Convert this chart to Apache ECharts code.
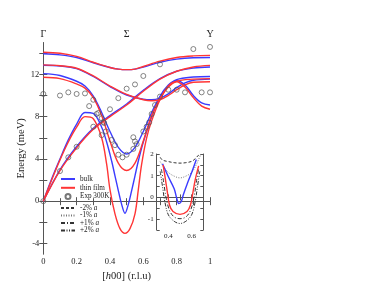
<!DOCTYPE html>
<html>
<head>
<meta charset="utf-8">
<script src="https://cdn.jsdelivr.net/npm/echarts@6/dist/echarts.min.js"></script>
<style>html,body{margin:0;padding:0;background:#fff}#c{width:374px;height:289px}</style>
</head>
<body>
<div id="c"></div>
<script>
// ---------- main panel data ----------
const xA = [0,0.1,0.2,0.3,0.4,0.45,0.5,0.55,0.6,0.7,0.8,0.9,1];
const bulkA = [13.95,13.85,13.6,13.1,12.65,12.5,12.45,12.5,12.7,13.15,13.45,13.58,13.6];
const filmA = [14.1,14.0,13.7,13.15,12.65,12.5,12.45,12.5,12.75,13.25,13.6,13.75,13.8];

const xB = [0,0.1,0.2,0.3,0.4,0.5,0.6,0.65,0.7,0.75,0.8,0.85,0.9,1];
const bulkB = [12.87,12.8,12.55,11.8,10.85,10.05,9.65,9.6,9.75,10.15,10.75,11.2,11.45,11.55];
const filmB = [12.9,12.82,12.58,11.85,10.9,10.1,9.6,9.5,9.6,10.0,10.55,11.0,11.25,11.3];

const xC = [0,0.1,0.2,0.25,0.3,0.35,0.4,0.45,0.5,0.55,0.6,0.65,0.7,0.75,0.8,0.9,1];
const bulkC = [12.07,11.9,11.35,10.9,9.95,8.4,6.6,5.1,4.47,5.1,6.6,8.4,9.9,10.9,11.5,11.75,11.8];
const filmC = [11.73,11.6,11.1,10.7,9.8,8.1,5.7,3.6,2.9,3.6,5.7,8.1,9.7,10.8,11.35,11.55,11.6];

const xTbulk = [0,0.05,0.1,0.15,0.2,0.25,0.3,0.35,0.38,0.41,0.43,0.45,0.47,0.49,0.51,0.53,0.55,0.57,0.6,0.65,0.7,0.75,0.8,0.85,0.9,0.95,1];
const bulkT = [0,2.1,4.0,5.8,7.3,8.4,8.3,7.0,5.6,3.8,2.4,1.0,-0.3,-1.15,-0.3,1.0,2.4,3.8,5.6,8.0,9.9,11.0,11.4,11.0,10.0,9.3,9.1];
const xTfilm = [0,0.05,0.1,0.15,0.2,0.25,0.3,0.35,0.38,0.4,0.43,0.46,0.49,0.52,0.55,0.57,0.59,0.62,0.65,0.7,0.75,0.8,0.85,0.9,0.95,1];
const filmT = [0,2.0,3.9,5.6,7.0,8.0,7.8,6.0,3.5,1.1,-1.2,-2.6,-3.05,-2.6,-1.2,1.1,3.5,6.0,7.6,9.6,10.9,11.3,10.8,9.8,9.0,8.7];

const xL = [0,0.1,0.2,0.3,0.4,0.5,0.6,0.7,0.8,0.9,1];
const bulkL = [0,2.96,5.17,6.9,8.1,9.2,10.5,11.6,12.3,12.6,12.7];
const filmL = [0,2.9,5.05,6.8,8.0,9.1,10.4,11.55,12.3,12.7,12.85];

const expX = [0,0.1,0.15,0.2,0.25,0.3,0.275,0.32,0.35,0.365,0.4,0.45,0.5,0.55,0.6,0.7,0.9,1,0.75,0.8,0.85,0.95,1,0.7,0.67,0.65,0.635,0.62,0.6,0.3,0.35,0.375,0.41,0.43,0.45,0.475,0.5,0.54,0.56,0.54,0.55,0.2,0.15,0.1,0,0.33,0.36];
const expY = [10.15,10.0,10.3,10.15,10.2,9.6,9.0,8.25,7.85,7.4,8.7,9.75,10.65,11.05,11.85,12.95,14.4,14.6,10.55,10.55,10.3,10.3,10.3,9.9,9.1,8.25,7.45,7.05,6.6,7.05,6.25,6.6,5.8,5.3,4.4,4.15,4.4,4.95,5.4,6.05,5.65,5.15,4.15,2.85,0,8.35,7.5];

const yLabels = [-4,0,4,8,12];
const yTicks = [-4,-2,0,2,4,6,8,10,12,14];
const topLabels = {0:'Γ', 0.5:'Σ', 1:'Υ'};

// ---------- inset data ----------
const insBulkX = [0.35,0.4,0.45,0.47,0.49,0.51,0.53,0.56,0.6,0.64];
const insBulkY = [1.55,0.95,0.4,0.0,-0.28,-0.2,0.15,0.6,1.15,1.75];
const insFilmX = [0.355,0.37,0.39,0.41,0.44,0.5,0.56,0.59,0.61,0.63,0.66];
const insFilmY = [1.5,1.0,0.3,-0.35,-0.65,-0.78,-0.65,-0.35,0.2,0.8,1.45];
const insM2X = [0.33,0.35,0.4,0.45,0.5,0.55,0.6,0.63,0.66,0.68];
const insM2Y = [1.85,1.72,1.65,1.6,1.58,1.6,1.66,1.78,1.95,2.0];
const insM1X = [0.33,0.36,0.4,0.45,0.5,0.55,0.6,0.63,0.66,0.68];
const insM1Y = [1.65,1.4,1.15,0.98,0.9,0.98,1.15,1.4,1.75,2.0];
const insP1X = [0.34,0.36,0.38,0.41,0.45,0.5,0.55,0.59,0.62,0.64,0.66];
const insP1Y = [1.3,0.7,0.0,-0.6,-0.9,-0.98,-0.9,-0.6,0.0,0.7,1.3];
const insP2X = [0.33,0.35,0.37,0.4,0.45,0.5,0.55,0.6,0.63,0.65,0.67];
const insP2Y = [1.2,0.5,-0.2,-0.8,-1.1,-1.2,-1.1,-0.8,-0.2,0.5,1.2];
const insYLabels = [-1,0,1,2];
const insYTicks = [-1.5,-1,-0.5,0,0.5,1,1.5,2];

// ---------- styling ----------
const SERIF = 'Liberation Serif';
const BLUE = '#3b3bff';
const RED = '#ff3535';
const AX = '#555';
const pairs = (xs, ys) => xs.map((x, i) => [x, ys[i]]);

function line(name, xs, ys, color, grid, type, width) {
  return {
    type: 'line', name, xAxisIndex: grid ? 2 : 0, yAxisIndex: grid ? 2 : 0,
    data: pairs(xs, ys), symbol: 'none', showSymbol: false, smooth: 0.35,
    lineStyle: {color, width: width || 1.4, type: type || 'solid'},
    itemStyle: {color}, animation: false, silent: true
  };
}

const series = [
  line('bulk', xA, bulkA, BLUE), line('bulk', xB, bulkB, BLUE), line('bulk', xC, bulkC, BLUE),
  line('bulk', xTbulk, bulkT, BLUE), line('bulk', xL, bulkL, BLUE),
  line('thin film', xA, filmA, RED), line('thin film', xB, filmB, RED), line('thin film', xC, filmC, RED),
  line('thin film', xTfilm, filmT, RED), line('thin film', xL, filmL, RED),
  {
    type: 'scatter', name: 'Exp 300K', xAxisIndex: 0, yAxisIndex: 0,
    data: pairs(expX, expY), symbol: 'circle', symbolSize: 5,
    itemStyle: {color: 'rgba(255,255,255,0)', borderColor: '#555', borderWidth: 0.9},
    animation: false, silent: true, z: 5
  },
  line('-2% a', insM2X, insM2Y, '#333', 1, [3, 2], 1),
  line('-1% a', insM1X, insM1Y, '#777', 1, [1, 1.5], 1),
  line('+1% a', insP1X, insP1Y, '#333', 1, [4, 2, 1, 2], 1),
  line('+2% a', insP2X, insP2Y, '#333', 1, [4, 1.5, 1, 1.5, 1, 1.5], 1),
  line('bulk', insBulkX, insBulkY, BLUE, 1, 'solid', 1.4),
  line('thin film', insFilmX, insFilmY, RED, 1, 'solid', 1.4)
];

const near = (v, t) => Math.abs(v - t) < 1e-6;
const txt = (size) => ({fontFamily: SERIF, fontSize: size, color: '#222'});
const noSym = (name) => ({name, itemStyle: {opacity: 0}});

const option = {
  backgroundColor: '#fff',
  animation: false,
  grid: [
    {left: 43.3, right: 164, top: 42.7, bottom: 35},
    {left: 156.7, right: 170.7, top: 154, bottom: 59}
  ],
  xAxis: [
    {
      gridIndex: 0, type: 'value', position: 'bottom', min: 0, max: 1, interval: 0.2,
      axisLine: {lineStyle: {color: AX}}, splitLine: {show: false},
      axisTick: {inside: true, length: 4, lineStyle: {color: AX}},
      minorTick: {show: true, splitNumber: 2, length: 3, lineStyle: {color: AX}},
      axisLabel: Object.assign({margin: 3}, txt(8.5)),
      name: '[{i|h}00] (r.l.u)', nameLocation: 'middle', nameGap: 9.5,
      nameTextStyle: Object.assign({rich: {i: {fontFamily: SERIF, fontSize: 10.5, fontStyle: 'italic', color: '#222'}}}, txt(10.5))
    },
    {
      gridIndex: 0, type: 'value', position: 'top', min: 0, max: 1, interval: 0.1,
      axisLine: {lineStyle: {color: AX}}, splitLine: {show: false},
      axisTick: {inside: true, length: 4, lineStyle: {color: AX}},
      axisLabel: Object.assign({margin: 3, formatter: v => {
        for (const k in topLabels) { if (near(v, +k)) return topLabels[k]; }
        return '';
      }}, txt(10))
    },
    {
      gridIndex: 1, type: 'value', position: 'bottom', min: 0.3, max: 0.7, interval: 0.1,
      axisLine: {lineStyle: {color: AX}}, splitLine: {show: false},
      axisTick: {inside: true, length: 3, lineStyle: {color: AX}},
      axisLabel: Object.assign({margin: 3, formatter: v => near(v, 0.4) ? '0.4' : (near(v, 0.6) ? '0.6' : '')}, txt(7))
    },
    {
      gridIndex: 1, type: 'value', position: 'top', min: 0.3, max: 0.7, interval: 0.1,
      axisLine: {lineStyle: {color: AX}}, splitLine: {show: false},
      axisTick: {inside: true, length: 3, lineStyle: {color: AX}}, axisLabel: {show: false}
    }
  ],
  yAxis: [
    {
      gridIndex: 0, type: 'value', position: 'left', min: -5, max: 15,
      axisLine: {show: true, lineStyle: {color: AX}}, splitLine: {show: false},
      axisTick: {show: true, inside: true, length: 4, customValues: yTicks, lineStyle: {color: AX}},
      axisLabel: Object.assign({margin: 4, customValues: yLabels}, txt(8.5)),
      name: 'Energy (meV)', nameLocation: 'middle', nameGap: 17, nameRotate: 90,
      nameTextStyle: txt(10.5)
    },
    {
      gridIndex: 0, type: 'value', position: 'right', min: -5, max: 15,
      axisLine: {show: true, lineStyle: {color: AX}}, splitLine: {show: false},
      axisTick: {show: true, inside: true, length: 4, customValues: yTicks, lineStyle: {color: AX}},
      axisLabel: {show: false}
    },
    {
      gridIndex: 1, type: 'value', position: 'left', min: -1.5, max: 2,
      axisLine: {show: true, lineStyle: {color: AX}}, splitLine: {show: false},
      axisTick: {show: true, inside: true, length: 3, customValues: insYTicks, lineStyle: {color: AX}},
      axisLabel: Object.assign({margin: 3, customValues: insYLabels}, txt(7))
    },
    {
      gridIndex: 1, type: 'value', position: 'right', min: -1.5, max: 2,
      axisLine: {show: true, lineStyle: {color: AX}}, splitLine: {show: false},
      axisTick: {show: true, inside: true, length: 3, customValues: insYTicks, lineStyle: {color: AX}},
      axisLabel: {show: false}
    }
  ],
  legend: [
    {
      data: [noSym('bulk'), noSym('thin film'), 'Exp 300K'], orient: 'vertical', left: 60, top: 175.5,
      itemWidth: 14, itemHeight: 5, itemGap: 1.8, padding: 0, selectedMode: false,
      textStyle: txt(7.2)
    },
    {
      data: [noSym('-2% a'), noSym('-1% a'), noSym('+1% a'), noSym('+2% a')], orient: 'vertical', left: 60, top: 204.5,
      itemWidth: 14, itemHeight: 7, itemGap: 0.5, padding: 0, selectedMode: false,
      formatter: n => n.replace(/ a$/, ' {i|a}'),
      textStyle: Object.assign({rich: {i: {fontFamily: SERIF, fontSize: 7.2, fontStyle: 'italic', color: '#222'}}}, txt(7.2))
    }
  ],
  series
};

const chart = echarts.init(document.getElementById('c'), null, {renderer: 'canvas'});
chart.setOption(option);
</script>
</body>
</html>
